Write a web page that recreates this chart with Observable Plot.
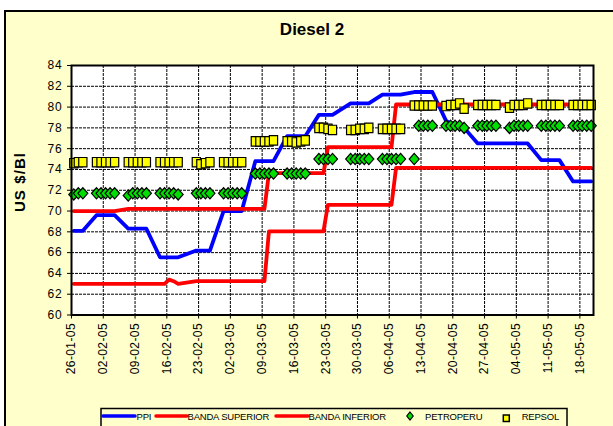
<!DOCTYPE html>
<html>
<head>
<meta charset="utf-8">
<script src="https://cdn.jsdelivr.net/npm/d3@7"></script>
<script src="https://cdn.jsdelivr.net/npm/@observablehq/plot@0.6"></script>
<style>
  body { margin: 0; background: #fff; }
  #wrap { position: relative; width: 613px; height: 426px; overflow: hidden; background: #fff;
          font-family: Arial, "Liberation Sans", sans-serif; }
  #bg { position: absolute; left: 4px; top: 10px; width: 660px; height: 460px;
        border-left: 2px solid #000; border-top: 2px solid #000; background: #FFFFCC; }
  #chart { position: absolute; left: 0; top: 0; }
  #overlay { position: absolute; left: 0; top: 0; pointer-events: none; }
  #chart [aria-label="y-axis tick label"] text { letter-spacing: 0.8px; }
  #chart [aria-label="x-axis tick label"] text { letter-spacing: 0.4px; }
</style>
</head>
<body>
<div id="wrap">
  <div id="bg"></div>
  <div id="chart"></div>
  <svg id="overlay" width="613" height="426"></svg>
</div>
<script>
// ---------- data ----------
const dates = [
  "2005-01-26","2005-01-27","2005-01-28",
  "2005-01-31","2005-02-01","2005-02-02","2005-02-03","2005-02-04",
  "2005-02-07","2005-02-08","2005-02-09","2005-02-10","2005-02-11",
  "2005-02-14","2005-02-15","2005-02-16","2005-02-17","2005-02-18",
  "2005-02-22","2005-02-23","2005-02-24","2005-02-25",
  "2005-02-28","2005-03-01","2005-03-02","2005-03-03","2005-03-04",
  "2005-03-07","2005-03-08","2005-03-09","2005-03-10","2005-03-11",
  "2005-03-14","2005-03-15","2005-03-16","2005-03-17","2005-03-18",
  "2005-03-21","2005-03-22","2005-03-23","2005-03-24",
  "2005-03-28","2005-03-29","2005-03-30","2005-03-31","2005-04-01",
  "2005-04-04","2005-04-05","2005-04-06","2005-04-07","2005-04-08",
  "2005-04-11","2005-04-12","2005-04-13","2005-04-14","2005-04-15",
  "2005-04-18","2005-04-19","2005-04-20","2005-04-21","2005-04-22",
  "2005-04-25","2005-04-26","2005-04-27","2005-04-28","2005-04-29",
  "2005-05-02","2005-05-03","2005-05-04","2005-05-05","2005-05-06",
  "2005-05-09","2005-05-10","2005-05-11","2005-05-12","2005-05-13",
  "2005-05-16","2005-05-17","2005-05-18","2005-05-19","2005-05-20"
];

const ppi = [
  68.1,68.1,68.1,
  69.6,69.6,69.6,69.6,69.6,
  68.3,68.3,68.3,68.3,68.3,
  65.55,65.55,65.55,65.55,65.55,
  66.2,66.2,66.2,66.2,
  70.0,70.0,70.0,70.0,70.0,
  74.8,74.8,74.8,74.8,74.8,
  77.2,77.2,77.2,77.2,77.2,
  79.25,79.25,79.25,79.25,
  80.35,80.35,80.35,80.35,80.35,
  81.2,81.2,81.2,81.2,81.2,
  81.45,81.45,81.45,81.45,81.45,
  78.7,78.4,78.2,78.1,78.0,
  76.5,76.5,76.5,76.5,76.5,
  76.5,76.5,76.5,76.5,76.5,
  74.9,74.9,74.9,74.9,74.9,
  72.85,72.85,72.85,72.85,72.85
];

const bandaSuperior = [
  70.0,70.0,70.0,
  70.0,70.0,70.0,70.0,70.0,
  70.2,70.2,70.2,70.2,70.2,
  70.2,70.2,70.2,70.2,70.2,
  70.2,70.2,70.2,70.2,
  70.2,70.2,70.2,70.2,70.2,
  70.2,70.2,70.2,73.65,73.65,
  73.65,73.65,73.65,73.65,73.65,
  73.65,73.65,76.15,76.15,
  76.15,76.15,76.15,76.15,76.15,
  76.15,76.15,76.15,80.25,80.25,
  80.25,80.25,80.25,80.25,80.25,
  80.25,80.25,80.25,80.25,80.25,
  80.25,80.25,80.25,80.25,80.25,
  80.25,80.25,80.25,80.25,80.25,
  80.25,80.25,80.25,80.25,80.25,
  80.25,80.25,80.25,80.25,80.25
];

const bandaInferior = [
  63.0,63.0,63.0,
  63.0,63.0,63.0,63.0,63.0,
  63.0,63.0,63.0,63.0,63.0,
  63.0,63.0,63.4,63.25,63.0,
  63.25,63.25,63.25,63.25,
  63.25,63.25,63.25,63.25,63.25,
  63.25,63.25,63.25,68.05,68.05,
  68.05,68.05,68.05,68.05,68.05,
  68.05,68.05,70.6,70.6,
  70.6,70.6,70.6,70.6,70.6,
  70.6,70.6,70.6,74.15,74.15,
  74.15,74.15,74.15,74.15,74.15,
  74.15,74.15,74.15,74.15,74.15,
  74.15,74.15,74.15,74.15,74.15,
  74.15,74.15,74.15,74.15,74.15,
  74.15,74.15,74.15,74.15,74.15,
  74.15,74.15,74.15,74.15,74.15
];

const petroperu = [
  71.6,71.7,71.7,
  71.7,71.7,71.7,71.7,71.7,
  71.5,71.7,71.7,71.7,71.7,
  71.7,71.7,71.7,71.7,71.6,
  71.7,71.7,71.7,71.7,
  71.7,71.7,71.7,71.7,71.7,
  73.6,73.6,73.6,73.6,73.6,
  73.6,73.6,73.6,73.6,73.6,
  75.0,75.0,75.0,75.0,
  75.0,75.0,75.0,75.0,75.0,
  75.0,75.0,75.0,75.0,75.0,
  75.0,78.2,78.2,78.2,78.2,
  78.2,78.2,78.2,78.2,78.0,
  78.2,78.2,78.2,78.2,78.2,
  78.0,78.2,78.2,78.2,78.2,
  78.2,78.2,78.2,78.2,78.2,
  78.2,78.2,78.2,78.2,78.2
];

const repsol = [
  74.6,74.7,74.7,
  74.7,74.7,74.7,74.7,74.7,
  74.7,74.7,74.7,74.7,74.7,
  74.7,74.7,74.7,74.7,74.7,
  74.7,74.5,74.6,74.7,
  74.7,74.7,74.7,74.7,74.7,
  76.7,76.7,76.7,76.7,76.8,
  76.7,76.7,76.6,76.7,76.8,
  78.0,78.0,77.9,77.8,
  77.8,77.8,77.9,77.9,78.0,
  77.9,77.9,77.9,77.9,77.9,
  80.15,80.15,80.15,80.15,80.15,
  80.1,80.2,80.2,80.35,79.85,
  80.2,80.2,80.2,80.2,80.2,
  79.95,80.2,80.2,80.2,80.35,
  80.2,80.2,80.2,80.2,80.2,
  80.2,80.2,80.2,80.2,80.2
];

const xTickLabels = [
  "2005-01-26","2005-02-02","2005-02-09","2005-02-16","2005-02-23","2005-03-02",
  "2005-03-09","2005-03-16","2005-03-23","2005-03-30","2005-04-06","2005-04-13",
  "2005-04-20","2005-04-27","2005-05-04","2005-05-11","2005-05-18"
];
const yTicks = [60,62,64,66,68,70,72,74,76,78,80,82,84];
const xDomain = ["2005-01-26","2005-05-21"];

const seriesNames = ["PPI","BANDA SUPERIOR","BANDA INFERIOR","PETROPERU","REPSOL"];

// ---------- build ----------
const parse = d3.utcParse("%Y-%m-%d");
const HALF_DAY = 12 * 3600 * 1000;
const rows = dates.map((d, i) => ({
  date: new Date(parse(d).getTime() + HALF_DAY),
  ppi: ppi[i], sup: bandaSuperior[i], inf: bandaInferior[i],
  pp: petroperu[i], rep: repsol[i]
}));
const xTicks = xTickLabels.map(parse);

const diamondSym = { draw(ctx) { const w = 5.0, h = 5.6;
  ctx.moveTo(0, -h); ctx.lineTo(w, 0); ctx.lineTo(0, h); ctx.lineTo(-w, 0); ctx.closePath(); } };
const squareSym = { draw(ctx) { const w = 4.1, h = 4.7; ctx.rect(-w, -h, 2 * w, 2 * h); } };

const chart = Plot.plot({
  width: 613, height: 426,
  marginLeft: 71, marginRight: 20, marginTop: 65, marginBottom: 111.5,
  style: { background: "transparent", fontFamily: "Arial, 'Liberation Sans', sans-serif", fontSize: "12px", color: "#000", overflow: "visible" },
  x: { type: "utc", domain: xDomain.map(parse) },
  y: { domain: [60, 84] },
  marks: [
    Plot.frame({ fill: "white" }),
    Plot.ruleY(yTicks.slice(1, -1), { stroke: "#000", strokeWidth: 1, strokeDasharray: "3,1" }),
    Plot.ruleX(xTicks.slice(1), { stroke: "#000", strokeWidth: 1, strokeDasharray: "3,1" }),
    Plot.axisY({ ticks: yTicks, tickSize: 4, tickPadding: 5, label: null, fontSize: 12, stroke: "#000" }),
    Plot.axisX({ ticks: xTicks, tickSize: 4, tickPadding: 4, tickRotate: -90, label: null, fontSize: 12,
                 tickFormat: d3.utcFormat("%d-%m-%y"), stroke: "#000" }),
    Plot.line(rows, { x: "date", y: "ppi", stroke: "#0000FF", strokeWidth: 3.8 }),
    Plot.line(rows, { x: "date", y: "sup", stroke: "#FF0000", strokeWidth: 3.8 }),
    Plot.line(rows, { x: "date", y: "inf", stroke: "#FF0000", strokeWidth: 3.8 }),
    Plot.dot(rows, { x: "date", y: "pp", symbol: diamondSym, fill: "#00E000", stroke: "#000", strokeWidth: 1.2 }),
    Plot.dot(rows, { x: "date", y: "rep", symbol: squareSym, fill: "#FFFF00", stroke: "#000", strokeWidth: 1.2 }),
    Plot.frame({ stroke: "#000", strokeWidth: 2 })
  ]
});
document.getElementById("chart").appendChild(chart);

// ---------- title, axis label, legend ----------
const ov = d3.select("#overlay");
const FONT = "Arial, 'Liberation Sans', sans-serif";
ov.append("text").attr("x", 312).attr("y", 35).attr("text-anchor", "middle")
  .attr("font-family", FONT).attr("font-weight", "bold").attr("font-size", 17).text("Diesel 2");
ov.append("text").attr("transform", "translate(24.5,182) rotate(-90)").attr("text-anchor", "middle")
  .attr("font-family", FONT).attr("font-weight", "bold").attr("font-size", 15)
  .attr("letter-spacing", 1.1).text("US $/Bl");

const lg = ov.append("g");
lg.append("rect").attr("x", 101).attr("y", 408.5).attr("width", 466).attr("height", 30)
  .attr("fill", "#FFFFCC").attr("stroke", "#000").attr("stroke-width", 1.5);
const ly = 416;
const legendItems = [
  { type: "line", color: "#0000FF", x0: 103, x1: 135, tx: 136.5 },
  { type: "line", color: "#FF0000", x0: 156, x1: 187, tx: 187.5 },
  { type: "line", color: "#FF0000", x0: 276, x1: 308, tx: 308.5 },
  { type: "diamond", cx: 410, tx: 425 },
  { type: "square", cx: 506.3, tx: 521.7 }
];
legendItems.forEach((it, i) => {
  if (it.type === "line") {
    lg.append("line").attr("x1", it.x0).attr("x2", it.x1).attr("y1", ly).attr("y2", ly)
      .attr("stroke", it.color).attr("stroke-width", 3.5).attr("stroke-linecap", "round");
  } else if (it.type === "diamond") {
    lg.append("path").attr("d", `M${it.cx},${ly-4} L${it.cx+3.2},${ly} L${it.cx},${ly+4} L${it.cx-3.2},${ly} Z`)
      .attr("fill", "#00E000").attr("stroke", "#000").attr("stroke-width", 1.2);
  } else {
    lg.append("rect").attr("x", it.cx - 3).attr("y", ly - 1).attr("width", 6).attr("height", 6.5)
      .attr("fill", "#FFFF00").attr("stroke", "#000").attr("stroke-width", 1.5);
  }
  lg.append("text").attr("x", it.tx).attr("y", ly + 3.5).attr("font-family", FONT)
    .attr("font-size", 9.5).attr("letter-spacing", -0.2).text(seriesNames[i]);
});
</script>
</body>
</html>
